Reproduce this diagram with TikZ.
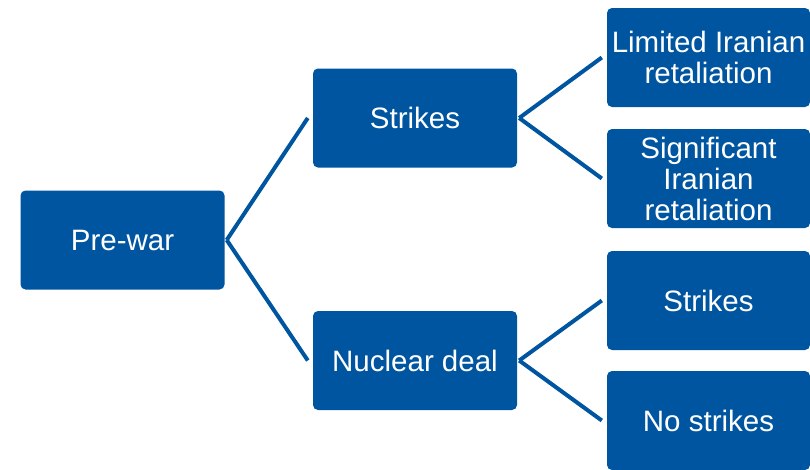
\documentclass[tikz,border=0pt]{standalone}
\usepackage{fontspec}
\setmainfont{Liberation Sans}
\definecolor{treeblue}{RGB}{0,85,160}

\begin{document}
\begin{tikzpicture}[x=1pt, y=-1pt,
    box/.style={fill=treeblue, text=white, rounded corners=5pt, minimum width=204pt, minimum height=99pt,
        inner sep=0pt, align=center, font=\fontsize{29.5}{31}\selectfont},
    branch/.style={draw=treeblue, line width=4pt}]
    \useasboundingbox (0,0) rectangle (810,469);
    % root and first level
    \node[box] (prewar) at (122.5,240) {Pre-war};
    \node[box] (strikes) at (415,118) {Strikes};
    \node[box] (deal) at (415,360.5) {Nuclear deal};
    % second level
    \node[box, minimum width=203pt] (limited) at (708.5,57.5) {Limited Iranian\\retaliation};
    \node[box, minimum width=203pt] (significant) at (708.5,178.5) {Significant\\Iranian\\retaliation};
    \node[box, minimum width=203pt] (dealstrikes) at (708.5,300.5) {Strikes};
    \node[box, minimum width=203pt] (nostrikes) at (708.5,420.5) {No strikes};

    \foreach \a/\b in {prewar/strikes, prewar/deal, strikes/limited, strikes/significant, deal/dealstrikes, deal/nostrikes}
        {\draw[branch] ([xshift=2pt]\a.east) -- ([xshift=-5pt]\b.west);}
\end{tikzpicture}
\end{document}
